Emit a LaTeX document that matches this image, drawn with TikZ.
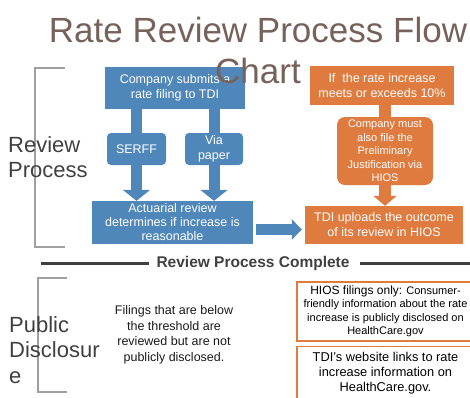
\documentclass[tikz,border=0pt]{standalone}
\usepackage{fontspec}
\setmainfont{Liberation Sans}
\usetikzlibrary{positioning,arrows.meta}

\definecolor{flowblue}{HTML}{4F87BA}
\definecolor{floworange}{HTML}{E07B3F}
\definecolor{titlebrown}{HTML}{76625A}
\definecolor{darktext}{HTML}{404040}
\definecolor{bracketgray}{HTML}{A0A0A0}

\begin{document}
\begin{tikzpicture}[x=1pt, y=-1pt,
    bluebox/.style={fill=flowblue, text=white, align=center, inner sep=0pt,
      font=\fontsize{12.5}{15}\selectfont},
    orangebox/.style={fill=floworange, text=white, align=center, inner sep=0pt,
      font=\fontsize{12.5}{15}\selectfont},
    notebox/.style={draw=floworange, line width=1.5pt, fill=white, align=center,
      inner sep=0pt, text=black},
    fatbar/.style={line width=11pt},
    fatarrow/.style={line width=11pt, -{Triangle[width=27pt, length=11pt]}},
    bracket/.style={draw=bracketgray, line width=2pt},
    sidelabel/.style={anchor=base west, align=left, text=darktext, inner sep=0pt,
      font=\fontsize{22}{25}\selectfont}]
  \useasboundingbox (0,0) rectangle (470,397);

  % left side brackets and labels
  \draw[bracket] (65,68) -- (35,68) -- (35,247) -- (65,247);
  \node[sidelabel] (review) at (8,177) {Review\\Process};
  \draw[bracket] (67,278) -- (38,278) -- (38,392) -- (67,392);
  \node[sidelabel, font=\fontsize{22}{25.5}\selectfont] (public) at (9,383) {Public\\Disclosur\\e};

  % blue column
  \node[bluebox, minimum width=140pt, minimum height=42pt] (company) at (175,87.5) {Company submits a\\rate filing to TDI};
  \node[bluebox, rounded corners=4pt, minimum width=59pt, minimum height=32pt] (serff) at (136.5,149) {SERFF};
  \node[bluebox, rounded corners=4pt, minimum width=58pt, minimum height=32pt] (paper) at (214,149) {Via\\paper};
  \node[bluebox, minimum width=161pt, minimum height=43pt, font=\fontsize{12.5}{14}\selectfont] (actuarial) at (172.5,222.5) {Actuarial review\\determines if increase is\\reasonable};
  \draw[fatbar, flowblue] (serff.north |- company.south) -- (serff.north);
  \draw[fatbar, flowblue] (paper.north |- company.south) -- (paper.north);
  \draw[fatarrow, flowblue] (serff.south) -- (serff.south |- actuarial.north);
  \draw[fatarrow, flowblue] (paper.south) -- (paper.south |- actuarial.north);

  % orange column
  \node[orangebox, minimum width=144pt, minimum height=39pt] (rateup) at (382,85.5) {If~ the rate increase\\meets or exceeds 10\%};
  \node[orangebox, rounded corners=8pt, minimum width=96pt, minimum height=68pt,
    font=\fontsize{11}{13.5}\selectfont] (justify) at (385,151) {Company must\\also file the\\Preliminary\\Justification via\\HIOS};
  \node[orangebox, minimum width=158pt, minimum height=38pt] (uploads) at (384,225) {TDI uploads the outcome\\of its review in HIOS};
  \draw[fatbar, floworange, line width=12pt] (justify.north |- rateup.south) -- (justify.north);
  \draw[fatarrow, floworange, line width=12pt, -{Triangle[width=23pt, length=10pt]}] (justify.south) -- (justify.south |- uploads.north);

  % from review to upload
  \coordinate (across) at (0,229.5);
  \draw[fatarrow, flowblue, -{Triangle[width=20pt, length=10pt]}, shorten <=3pt, shorten >=3pt]
    (actuarial.east |- across) -- (uploads.west |- across);

  % divider
  \node[text=darktext, font=\fontsize{15.5}{18}\bfseries, inner sep=0pt] (complete) at (253,263) {Review Process Complete};
  \coordinate (divleft) at (41,263);
  \coordinate (divright) at (470,263);
  \draw[line width=3pt, darktext] (divleft) -- ([xshift=-7pt]complete.west);
  \draw[line width=3pt, darktext] ([xshift=10pt]complete.east) -- (divright);

  % public disclosure notes
  \node[align=center, text=black!90, inner sep=0pt, font=\fontsize{12.5}{15.5}\selectfont] (below) at (174,335)
    {Filings that are below\\the threshold are\\reviewed but are not\\publicly disclosed.};
  \node[notebox, minimum width=177pt, minimum height=59pt, font=\fontsize{11}{13.5}\selectfont] (hios) at (385.5,311.5)
    {{\fontsize{12}{13.5}\selectfont HIOS filings only:} Consumer-\\friendly information about the rate\\increase is publicly disclosed on\\HealthCare.gov};
  \node[notebox, minimum width=177pt, minimum height=54pt, font=\fontsize{12.8}{15}\selectfont] (website) at (385.5,373.5)
    {TDI’s website links to rate\\increase information on\\HealthCare.gov.};

  % title on top
  \node[text=titlebrown, align=center, anchor=base, inner sep=0pt, font=\fontsize{35}{41}\selectfont] (title) at (258,83)
    {Rate Review Process Flow\\Chart};
\end{tikzpicture}
\end{document}
